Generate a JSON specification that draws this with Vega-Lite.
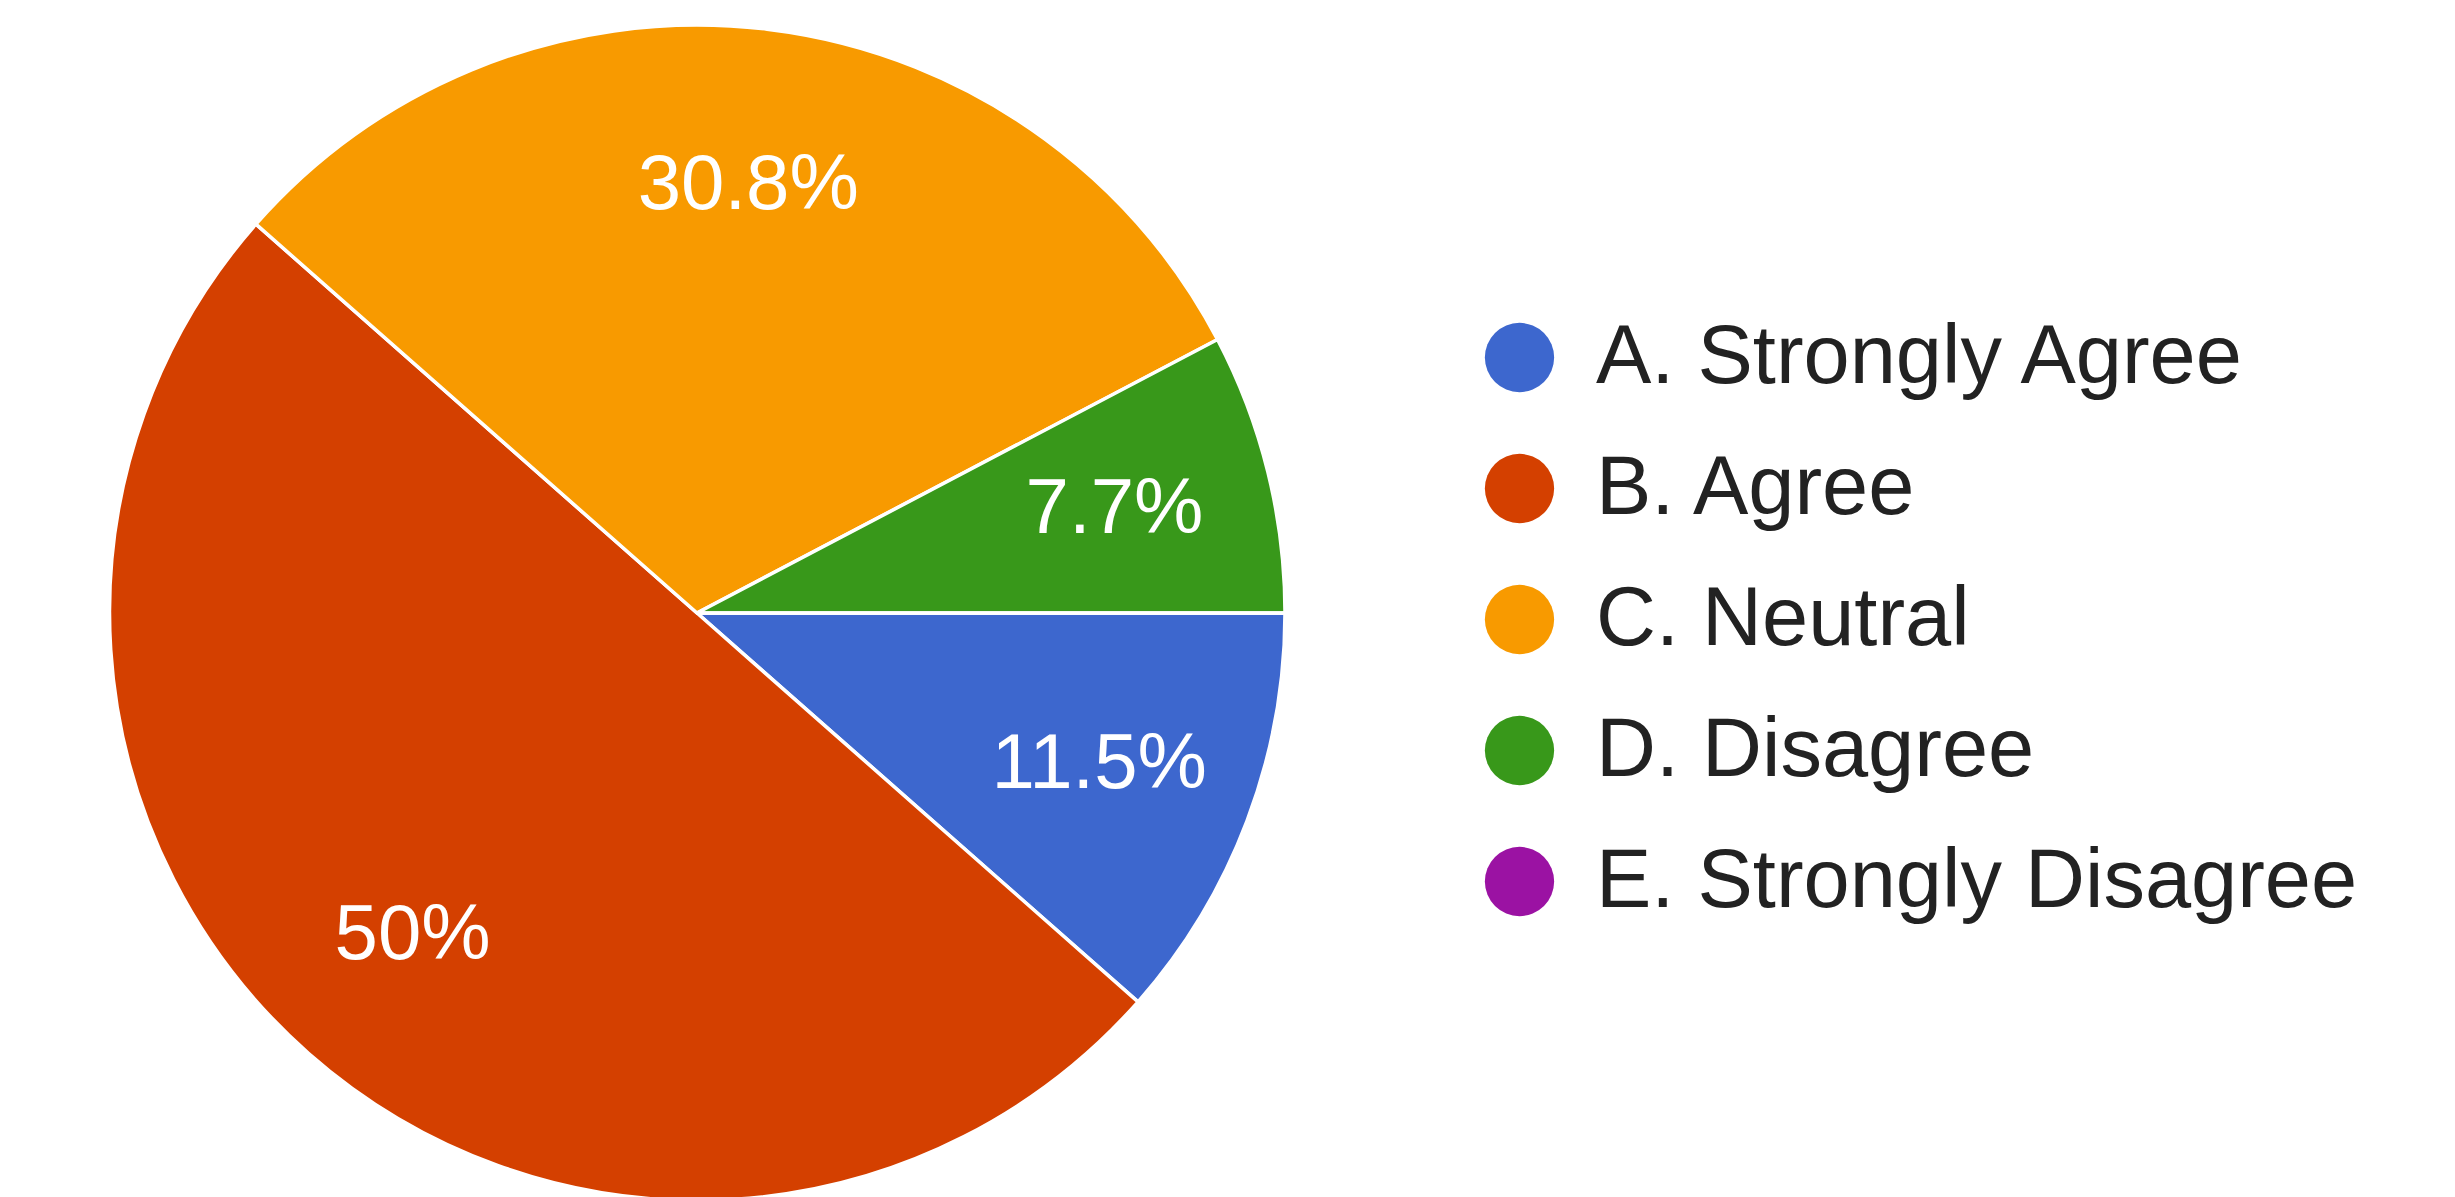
{
  "$schema": "https://vega.github.io/schema/vega-lite/v6.json",
  "width": 1394,
  "height": 1226,
  "padding": 0,
  "background": "white",
  "config": {"view": {"stroke": null}, "font": "Liberation Sans"},
  "data": {
    "values": [
      {"k": 1, "answer": "A. Strongly Agree", "pct": 11.5, "label": "11.5%"},
      {"k": 2, "answer": "B. Agree", "pct": 50, "label": "50%"},
      {"k": 3, "answer": "C. Neutral", "pct": 30.8, "label": "30.8%"},
      {"k": 4, "answer": "D. Disagree", "pct": 7.7, "label": "7.7%"},
      {"k": 5, "answer": "E. Strongly Disagree", "pct": 0, "label": "0%"}
    ]
  },
  "encoding": {
    "theta": {"field": "pct", "type": "quantitative", "stack": true, "scale": {"range": [1.5707963, 7.8539816]}},
    "order": {"field": "k", "type": "quantitative", "sort": "ascending"},
    "color": {
      "field": "answer",
      "type": "nominal",
      "scale": {
        "domain": ["A. Strongly Agree", "B. Agree", "C. Neutral", "D. Disagree", "E. Strongly Disagree"],
        "range": ["#3d67ce", "#d44000", "#f89a00", "#38981a", "#9b12a3"]
      },
      "legend": {
        "title": null,
        "orient": "none",
        "legendX": 1478,
        "legendY": 316,
        "padding": 0,
        "symbolType": "circle",
        "symbolSize": 4800,
        "symbolStrokeWidth": 0,
        "labelFontSize": 83,
        "labelFont": "Liberation Sans",
        "labelColor": "#222222",
        "labelOffset": 35,
        "labelLimit": 1000,
        "rowPadding": 47
      }
    }
  },
  "layer": [
    {
      "mark": {"type": "arc", "outerRadius": 588, "stroke": "white", "strokeWidth": 3.5}
    },
    {
      "transform": [{"filter": "datum.pct > 0"}],
      "mark": {"type": "text", "radius": 430, "fontSize": 78, "font": "Liberation Sans", "fill": "white", "align": "center", "baseline": "middle"},
      "encoding": {
        "text": {"field": "label", "type": "nominal"},
        "color": {"value": "white"}
      }
    }
  ]
}
